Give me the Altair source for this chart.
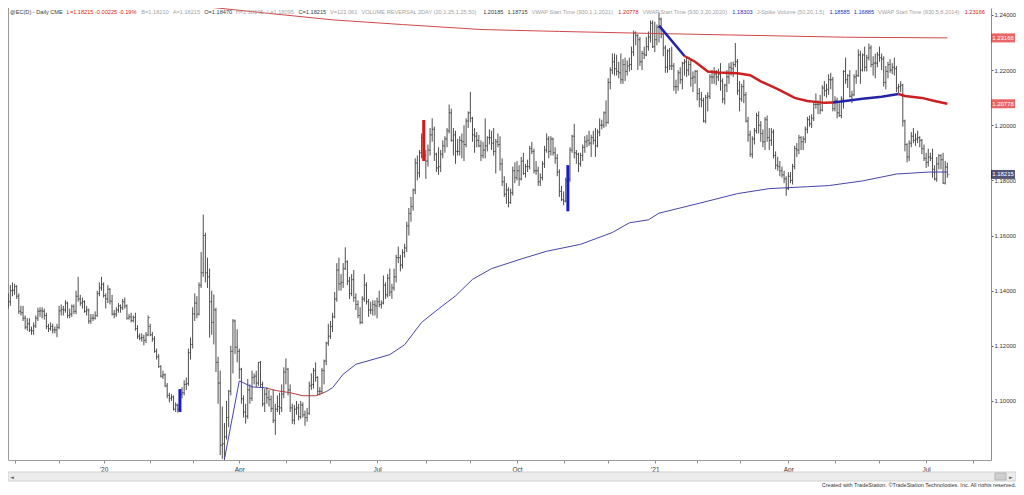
import altair as alt
import pandas as pd

# ---------------- data (prices in pips, 1 pip = 0.0001) ----------------
opens = [
 11345,11350,11360,11400,11402, 11415,11380,11325,11320,11300, 11268,11280,11257,11255,11272,
 11300,11325,11327,11325,11310, 11270,11262,11270,11258,11258, 11267,11327,11332,11330,11355,
 11310,11315,11343,11325,11380, 11370,11355,11360,11325,11330, 11290,11300,11300,11310, 11390,11410,
 11423,11382, 11370,11405,11362,11315,11315, 11330,11345,11338,11360,11345, 11300,11305,11292,11303,11263,
 11235,11228,11230,11220,11240, 11270,11240,11225,11180,11160, 11125,11090,11095,11055,11020,
 11010,11015,10970,10985,10970, 11025,11030,11060,11063,11175, 11205,11316,11355,11315,11420,
 11465,11600,11465,11450,11360, 11285,11330,11140,11065,10840, 10845,10870,10940,11035,11180, 11290,11195,
 11180,11115,11008, 10960,10945,11040,11010,11085, 11090,11065,11140,11060,10990, 11025,11012,11005,10973,10930,
 10970,10980,10975,11025, 11105, 11115,11040,10975,10930,10970, 10975,10943,10985,10950,10940,
 10955,11055,11060,11110,11085, 11035,11035,11110,11145,11210, 11235,11270,11305,11370,11475,
 11425,11430,11480,11505,11435, 11390,11440,11375,11350,11310, 11285,11370,11420,11360,11330, 11330,11350,
 11345,11360,11350, 11355,11420,11385,11445,11395, 11410,11450,11520,11520,11493, 11538,11555,11635,11680,11705,
 11765,11863,11827,11900,11955, 11890,11870,11910,11965,11985, 11895,11845,11850,11895,11925,
 11950,11980,12045,11945,11965, 11905,11905,11945,11940,11930, 12015,
 12045,12025,11965,11960, 11945,11925,11890,11910,11925, 11955,11955,11935,11905,11940,
 11930,11860,11795,11750,11765, 11720,11755,11835, 11810,11835, 11805,11870,11825,11850,11850,
 11915,11905,11835,11835,11795, 11810,11860,11910,11950,11905, 11950,11900,11880,11830,11760,
 11730,11725,11800,11805,11910, 11960,11900,11895,11860,11890, 11920,11940,11945,11935,11955,
 11945,11925,11975,12000,12000, 12045, 12010,12155,12200,12230, 12205,12195,12190,12165,12220,
 12195,12215,12220,12265,12335, 12325,12310,12230,12260, 12255,12285,12320,12370,
 12285,12310,12355,12385,12330, 12280,12210,12270,12215,12215, 12140,12140,12190,12165,12225,
 12230,12200,12220,12170,12175, 12195,12115,12095,12090,12015, 12100,12105,12175,12175,12185,
 12175,12185,12160,12095,12145, 12175,12210,12205,12220,12230, 12125,12095,12140,12110,12015,
 11965,11895,11950,11980,12035, 12000,11970,11940,12020,11955, 11945,11975,11890,11855,11850,
 11835,11820,11805, 11770,11815, 11800,11850,11915,11910,11955, 11940,11950,11985,12020,12005,
 12025,12075,12075,12075,12055, 12135,12125,12130,12165,12165, 12060,12090,12045,12035,12095,
 12195,12165,12180,12105,12110, 12175,12180,12255,12200,12255, 12210,12245,12280,12220,12225, 12225,
 12255,12245,12240,12155, 12195,12220,12200,12210,12205, 12135,12140,12145,12015,11930,
 11885,11935,11960,11945,11950, 11955,11945,11915, 11880,11865, 11885,11880,11840,11805,11860,
 11890,11875,11790,11847,
]
highs = [
 11375,11390,11420,11430,11425, 11420,11390,11345,11345,11310, 11300,11300,11270,11285,11310,
 11338,11340,11340,11335,11320, 11280,11285,11280,11270,11280, 11345,11350,11345,11365,11360,
 11335,11350,11350,11400,11450, 11385,11375,11365,11345,11335, 11315,11315,11325,11400, 11430,11450,
 11430,11390, 11420,11410,11385,11330,11340, 11355,11350,11370,11375,11350, 11315,11320,11310,11320,11275,
 11245,11245,11240,11250,11310, 11280,11250,11235,11190,11170, 11130,11110,11100,11065,11030,
 11025,11020,10995,10990,11043, 11050,11075,11085,11190,11230, 11340,11390,11380,11430,11540,
 11676,11610,11520,11480,11400, 11386,11338,11160,11110,10980, 10920,11000,11040,11200,11297, 11295,11260,
 11190,11120,11020, 10990,11080,11060,11110,11100, 11110,11141,11145,11070,11045, 11050,11040,11020,11040,10990,
 11020,11030,11060,11122, 11154, 11120,11060,10990,10985,11000, 10990,11000,10995,10965,10975,
 11070,11100,11120,11140,11090, 11050,11120,11150,11215,11280, 11290,11320,11395,11500,11520,
 11460,11500,11557,11510,11450, 11460,11475,11390,11365,11340, 11380,11460,11430,11370,11360, 11365,11365,
 11375,11400,11365, 11455,11430,11460,11480,11425, 11480,11530,11560,11530,11550, 11570,11650,11700,11740,11770,
 11880,11890,11910,11970,12019, 11910,11930,11990,12025,11995, 11900,11920,11910,11945,11960,
 11990,12075,12060,11990,11980, 11950,11960,11970,12000,12025, 12050,
 12121,12030,11990,11975, 11965,11945,11940,12025,11960, 11985,11980,11990,11950,11970,
 11960,11880,11815,11790,11775, 11770,11850,11865, 11870,11855, 11885,11900,11860,11875,11925,
 11940,11915,11870,11850,11825, 11870,11925,11970,11960,11960, 11955,11920,11895,11840,11780,
 11760,11810,11855,11920,11965, 12005,11910,11900,11900,11930, 11960,11965,11980,11965,11980,
 11990,11985,12025,12020,12050, 12090, 12170,12210,12260,12260, 12255,12230,12260,12240,12245,
 12235,12245,12285,12343,12340, 12330,12320,12270,12285, 12320,12340,12380,12380,
 12375,12365,12409,12390,12345, 12290,12275,12280,12285,12225, 12165,12200,12210,12230,12240,
 12250,12235,12240,12195,12200, 12200,12135,12120,12100,12110, 12120,12185,12200,12210,12200,
 12205,12225,12170,12150,12200, 12225,12230,12230,12298,12240, 12160,12150,12165,12120,12030,
 11980,11960,11990,12045,12050, 12015,11985,12030,12035,11990, 11990,11985,11905,11885,11870,
 11850,11835,11815, 11830,11830, 11860,11925,11935,11965,11960, 11960,11995,12030,12035,12040,
 12085,12115,12090,12110,12145, 12160,12150,12185,12190,12175, 12105,12100,12080,12105,12200,
 12245,12185,12200,12125,12185, 12200,12275,12270,12260,12285, 12255,12296,12290,12250,12260, 12265,
 12285,12260,12250,12215, 12230,12240,12225,12245,12215, 12150,12160,12150,12020,11935,
 11945,11975,11990,11970,11980, 11960,11950,11930, 11900,11915, 11900,11915,11855,11885,11895,
 11895,11900,11870,11864.5,
]
lows = [
 11330,11335,11345,11380,11385, 11370,11315,11310,11290,11260, 11255,11250,11240,11240,11265,
 11290,11305,11300,11295,11260, 11250,11255,11245,11245,11231, 11260,11310,11310,11320,11300,
 11300,11305,11315,11315,11360, 11345,11335,11320,11310,11280, 11280,11290,11295,11305, 11380,11400,
 11375,11335, 11355,11350,11310,11300,11305, 11320,11320,11330,11335,11295, 11295,11285,11285,11255,11225,
 11220,11215,11202,11210,11235, 11235,11215,11175,11150,11120, 11085,11080,11050,11010,10995,
 11000,10965,10960,10958,10960, 11010,11020,11040,11055,11150, 11190,11290,11300,11310,11410,
 11450,11430,11410,11230,11240, 11205,11105,10990,10804,10790, 10786,10860,10905,11020,11100, 11170,11140,
 11080,10990,10940, 10918,10935,10990,11000,11060, 11050,11055,11050,10980,10960, 10990,10980,10960,10920,10877,
 10960,10950,10960,11010, 11060, 11020,10960,10917,10915,10950, 10930,10935,10940,10910,10925,
 10950,11040,11045,11070,11020, 11020,11025,11060,11130,11200, 11225,11250,11300,11360,11400,
 11400,11410,11475,11420,11370, 11380,11360,11330,11300,11278, 11280,11360,11350,11305,11315, 11310,11310,
 11300,11340,11335, 11350,11370,11375,11380,11370, 11400,11430,11500,11470,11480, 11520,11540,11600,11650,11690,
 11750,11800,11810,11880,11870, 11805,11850,11890,11940,11870, 11830,11820,11830,11880,11900,
 11920,11970,11940,11890,11860, 11890,11890,11880,11870,11920, 11990,
 12010,11940,11900,11920, 11920,11870,11880,11880,11905, 11930,11910,11890,11825,11920,
 11835,11780,11740,11715,11702, 11715,11745,11790, 11800,11780, 11800,11820,11810,11830,11840,
 11895,11825,11820,11780,11780, 11800,11845,11900,11880,11890, 11890,11860,11815,11740,11725,
 11710,11720,11688,11795,11900, 11880,11860,11830,11850,11870, 11900,11920,11925,11885,11930,
 11885,11920,11960,11985,11990, 11995, 12005,12130,12185,12180, 12180,12170,12150,12150,12160,
 12180,12195,12200,12250,12290, 12200,12215,12200,12240, 12250,12270,12300,12280,
 12265,12290,12300,12315,12250, 12190,12190,12200,12200,12125, 12114,12125,12150,12130,12180,
 12175,12180,12140,12120,12150, 12090,12065,12065,12010,12007, 12050,12095,12150,12150,12145,
 12160,12125,12080,12075,12120, 12150,12180,12175,12210,12110, 12050,12085,12080,12010,11940,
 11885,11880,11930,11970,11970, 11940,11920,11910,11940,11910, 11925,11880,11840,11835,11815,
 11810,11790,11744, 11765,11790, 11785,11840,11885,11895,11910, 11910,11935,11970,11995,11990,
 12015,12060,12040,12040,12050, 12105,12100,12110,12130,12050, 12050,12025,12030,12025,12060,
 12150,12135,12100,12080,12105, 12150,12175,12150,12195,12195, 12195,12235,12210,12180,12170, 12210,
 12230,12200,12140,12130, 12170,12190,12185,12180,12120, 12115,12120,11995,11905,11865,
 11870,11920,11935,11925,11935, 11920,11895,11870, 11845,11850, 11870,11810,11800,11795,11840,
 11840,11787,11785,11809.5,
]
closes = [
 11350,11360,11400,11402,11415, 11380,11325,11320,11300,11268, 11280,11257,11255,11272,11300,
 11325,11327,11325,11310,11270, 11262,11270,11258,11258,11267, 11327,11332,11330,11355,11310,
 11315,11343,11325,11380,11370, 11355,11360,11325,11330,11290, 11300,11300,11310,11390, 11410,11423,
 11382,11370, 11405,11362,11315,11315,11330, 11345,11338,11360,11345,11300, 11305,11292,11303,11263,11235,
 11228,11230,11220,11240,11303, 11240,11225,11180,11160,11125, 11090,11095,11055,11020,11010,
 11015,10970,10985,10970,11025, 11030,11060,11063,11175,11205, 11316,11355,11315,11420,11465,
 11600,11465,11450,11360,11285, 11330,11140,11065,10840,10845, 10870,10940,11035,11180,11290, 11195,11180,
 11115,11008,10960, 10945,11040,11010,11085,11090, 11065,11140,11060,10990,11025, 11012,11005,10973,10930,10970,
 10980,10975,11025,11105, 11115, 11040,10975,10930,10970,10975, 10943,10985,10950,10940,10955,
 11055,11060,11110,11085,11035, 11035,11110,11145,11210,11235, 11270,11305,11370,11475,11425,
 11430,11480,11505,11435,11390, 11440,11375,11350,11310,11285, 11370,11420,11360,11330,11330, 11350,11345,
 11360,11350,11355, 11420,11385,11445,11395,11410, 11450,11520,11520,11493,11538, 11555,11635,11680,11705,11765,
 11863,11827,11900,11955,11890, 11870,11910,11965,11985,11895, 11845,11850,11895,11925,11950,
 11980,12045,11945,11965,11905, 11905,11945,11940,11930,12015, 12045,
 12025,11965,11960,11945, 11925,11890,11910,11925,11955, 11955,11935,11905,11940,11930,
 11860,11795,11750,11765,11720, 11755,11835,11810, 11835,11805, 11870,11825,11850,11850,11915,
 11905,11835,11835,11795,11810, 11860,11910,11950,11905,11950, 11900,11880,11830,11760,11730,
 11725,11800,11805,11910,11960, 11900,11895,11860,11890,11920, 11940,11945,11935,11955,11945,
 11925,11975,12000,12000,12045, 12010, 12155,12200,12230,12205, 12195,12190,12165,12220,12195,
 12215,12220,12265,12335,12325, 12310,12230,12260,12255, 12285,12320,12370,12285,
 12310,12355,12385,12330,12280, 12210,12270,12215,12215,12140, 12140,12190,12165,12225,12230,
 12200,12220,12170,12175,12195, 12115,12095,12090,12015,12100, 12105,12175,12175,12185,12175,
 12185,12160,12095,12145,12175, 12210,12205,12220,12230,12125, 12095,12140,12110,12015,11965,
 11895,11950,11980,12035,12000, 11970,11940,12020,11955,11945, 11975,11890,11855,11850,11835,
 11820,11805,11770, 11815,11800, 11850,11915,11910,11955,11940, 11950,11985,12020,12005,12025,
 12075,12075,12075,12055,12135, 12125,12130,12165,12165,12060, 12090,12045,12035,12095,12195,
 12165,12180,12105,12110,12175, 12180,12255,12200,12255,12210, 12245,12280,12220,12225,12225, 12255,
 12245,12240,12155,12195, 12220,12200,12210,12205,12135, 12140,12145,12015,11930,11885,
 11935,11960,11945,11950,11955, 11945,11915,11880, 11865,11885, 11880,11840,11805,11860,11890,
 11875,11790,11850,11821.5,
]

# J-Spike highlighted bars (bar index) and their colours
spike_idx = [82, 197, 265]
spike_colors = ["#1b1bc4", "#d21a1a", "#1b1bc4"]

# VWAP start 5/8/2014 (thin red)
v14_idx = [96, 122, 154, 187, 224, 261, 303, 350, 396, 444]
v14_val = [1.2428, 1.2407, 1.2382, 1.2365, 1.2347, 1.2340, 1.2333, 1.2326, 1.2319, 1.23166]

# VWAP start 3/20/2020 (thin; blue / red / blue segments)
v20a_idx = [103, 110, 116, 122, 123]
v20a_val = [1.0789, 1.1073, 1.1051, 1.1048, 1.1046]
v20b_idx = [123, 128, 134, 140, 146, 151]
v20b_val = [1.1046, 1.1037, 1.1030, 1.1019, 1.1019, 1.1034]
v20c_idx = [151, 154, 159, 165, 181, 188, 196, 204, 212, 220, 229, 243, 255, 271, 286, 294, 303,
            308, 327, 345, 360, 378, 388, 404, 420, 435, 444]
v20c_val = [1.1034, 1.1048, 1.1097, 1.1133, 1.1168, 1.1204, 1.1285, 1.1334, 1.1381, 1.1441, 1.1480,
            1.1515, 1.1543, 1.1568, 1.1611, 1.1646, 1.1657, 1.1681, 1.1717, 1.1752, 1.1770, 1.1777,
            1.1781, 1.1798, 1.1823, 1.1830, 1.18303]

# VWAP start 1/1/2021 (thick; blue / red / blue / red segments)
v21a_idx = [308, 320]
v21a_val = [1.2361, 1.2251]
v21b_idx = [320, 325, 331, 336, 345, 351, 356, 364, 372, 378, 386, 390]
v21b_val = [1.2251, 1.2230, 1.2195, 1.2191, 1.2188, 1.2181, 1.2159, 1.2131, 1.2099, 1.2088, 1.2081, 1.2082]
v21c_idx = [390, 393, 404, 413, 421]
v21c_val = [1.2082, 1.2085, 1.2096, 1.2103, 1.2113]
v21d_idx = [421, 424, 432, 438, 444]
v21d_val = [1.2113, 1.2106, 1.2099, 1.2088, 1.20778]

# price tags on the right axis
tag_values = [1.23166, 1.20778, 1.18215]
tag_labels = ["1.23166", "1.20778", "1.18215"]
tag_colors = ["#e32222", "#e32222", "#0c0c3a"]

y_tick_values = [1.10, 1.12, 1.14, 1.16, 1.18, 1.20, 1.22, 1.24]
quarter_month_names = {4: "Apr", 7: "Jul", 10: "Oct"}
holidays = ["2019-12-25", "2020-01-01", "2020-12-25", "2021-01-01"]

DARK, RED, GRAY, BLUE = "#3a3a3a", "#d42020", "#a3a3a3", "#2828b8"
header_segments = ["@EC(D) - Daily CME", "L=1.18215 -0.00225 -0.19%", "B=1.18210", "A=1.18215",
                   "O=1.18470", "H=1.18645", "L=1.18095", "C=1.18215", "V=122,061",
                   "VOLUME REVERSAL 2DAY (20,1.25,1.25,50)", "1.20185", "1.18715",
                   "VWAP Start Time (930,1,1,2021)", "1.20778", "VWAP Start Time (930,3,20,2020)",
                   "1.18303", "J-Spike Volume (50,20,1.5)", "1.18585", "1.16885",
                   "VWAP Start Time (930,5,8,2014)", "1.23166"]
header_colors = [DARK, RED, GRAY, GRAY, DARK, GRAY, GRAY, DARK, GRAY, GRAY, DARK, DARK,
                 GRAY, RED, GRAY, BLUE, GRAY, BLUE, BLUE, GRAY, RED]
credit_text = "Created with TradeStation. \u00a9TradeStation Technologies, Inc. All rights reserved."

# ---------------- layout ----------------
FONT = "Liberation Sans"
W, H = 983, 452
X_DOM = [0.9, 464.6]
Y_DOM = [1.0786, 1.2425]
BAR = "#3a3a3a"
TICK = "#7a7a7a"

n = len(closes)
assert len(opens) == len(highs) == len(lows) == n, (len(opens), len(highs), len(lows), n)

days = pd.bdate_range("2019-10-28", "2021-08-31")
days = days[~days.isin(pd.to_datetime(holidays))]

bars = pd.DataFrame({
    "i": list(range(n)),
    "date": [d.strftime("%Y-%m-%d") for d in days[:n]],
    "o": [v / 1e4 for v in opens],
    "h": [v / 1e4 for v in highs],
    "l": [v / 1e4 for v in lows],
    "c": [v / 1e4 for v in closes],
})

tick_vals, tick_labs = [], []
for k in range(1, len(days)):
    if days[k].month != days[k - 1].month and k <= X_DOM[1]:
        m = days[k].month
        tick_vals.append(k)
        tick_labs.append("'%02d" % (days[k].year % 100) if m == 1 else quarter_month_names.get(m, ""))
label_expr = " : ".join('datum.value == %d ? "%s"' % (v, l) for v, l in zip(tick_vals, tick_labs) if l) + ' : ""'

xs = alt.Scale(domain=X_DOM, nice=False, zero=False)
ys = alt.Scale(domain=Y_DOM, nice=False, zero=False)
xaxis = alt.Axis(values=tick_vals, labelExpr=label_expr, title=None, grid=False, tickSize=3,
                 tickColor="#8c8c8c", domainColor="#9a9a9a", labelFont=FONT, labelFontSize=6.5,
                 labelColor="#333333", labelPadding=3, labelOverlap=False, labelFlush=False, labelAngle=0)
yaxis = alt.Axis(orient="right", values=y_tick_values, format=".5f", title=None, grid=False, tickSize=2,
                 tickColor="#555555", domainColor="#8c8c8c", labelFont=FONT, labelFontSize=6,
                 labelColor="#333333", labelPadding=1, labelOverlap=False, labelFlush=False)


def X(f):
    return alt.X(f, type="quantitative", scale=xs, axis=xaxis)


def Y(f):
    return alt.Y(f, type="quantitative", scale=ys, axis=yaxis)


one = pd.DataFrame({"a": [0]})
layers = []

# left border
layers.append(alt.Chart(one).mark_rule(color="#9a9a9a", strokeWidth=1).encode(
    x=alt.value(0.5), y=alt.value(0), y2=alt.value(H)))

# OHLC bars
layers.append(alt.Chart(bars).mark_tick(orient="horizontal", size=2.2, thickness=1, xOffset=-1.1,
                                        color=TICK, clip=True).encode(x=X("i"), y=Y("o")))
layers.append(alt.Chart(bars).mark_tick(orient="horizontal", size=2.2, thickness=1, xOffset=1.1,
                                        color=TICK, clip=True).encode(x=X("i"), y=Y("c")))
layers.append(alt.Chart(bars).mark_rule(color=BAR, strokeWidth=0.9, clip=True).encode(
    x=X("i"), y=Y("l"), y2=alt.Y2("h")))

# spike bars
spikes = bars.loc[spike_idx].assign(col=spike_colors)
layers.append(alt.Chart(spikes).mark_rule(strokeWidth=3, clip=True).encode(
    x=X("i"), y=Y("l"), y2=alt.Y2("h"), color=alt.Color("col:N", scale=None)))


def line_layer(idx, val, color, width):
    df = pd.DataFrame({"i": idx, "v": val})
    return alt.Chart(df).mark_line(color=color, strokeWidth=width, clip=True).encode(x=X("i"), y=Y("v"))


layers.append(line_layer(v14_idx, v14_val, "#d24848", 1))
layers.append(line_layer(v20a_idx, v20a_val, "#4545b0", 1))
layers.append(line_layer(v20b_idx, v20b_val, "#b33a3a", 1))
layers.append(line_layer(v20c_idx, v20c_val, "#4545a8", 1))
layers.append(line_layer(v21a_idx, v21a_val, "#2323a6", 2.5))
layers.append(line_layer(v21b_idx, v21b_val, "#cc2020", 2.5))
layers.append(line_layer(v21c_idx, v21c_val, "#2323a6", 2.5))
layers.append(line_layer(v21d_idx, v21d_val, "#cc2020", 2.5))

# price tags
tags = pd.DataFrame({"v": tag_values, "lab": tag_labels, "col": tag_colors})
layers.append(alt.Chart(tags).mark_tick(orient="horizontal", size=24, thickness=9).encode(
    x=alt.value(W + 12), y=Y("v"), color=alt.Color("col:N", scale=None)))
layers.append(alt.Chart(tags).mark_text(color="white", fontSize=6, font=FONT, align="center",
                                        baseline="middle").encode(x=alt.value(W + 12), y=Y("v"), text="lab:N"))


# header text
def em_w(s):
    w = 0.0
    for ch in s:
        if ch.isdigit():
            w += 0.556
        elif ch in ".,: ":
            w += 0.278
        elif ch in "()-":
            w += 0.333
        elif ch == "=":
            w += 0.584
        elif ch == "%":
            w += 0.889
        elif ch == "@":
            w += 1.015
        elif ch in "ilj":
            w += 0.222
        elif ch in "rft":
            w += 0.3
        elif ch == "m":
            w += 0.833
        elif ch in "MW":
            w += 0.9
        elif ch.isupper():
            w += 0.69
        else:
            w += 0.53
    return w


GAP = 0.7
total_em = sum(em_w(s) for s in header_segments) + GAP * (len(header_segments) - 1)
fs = max(5.5, min(7.5, 975.0 / total_em))
xpos = 2.0
for seg, col in zip(header_segments, header_colors):
    layers.append(alt.Chart(one).mark_text(font=FONT, fontSize=fs, color=col, align="left",
                                           baseline="middle").encode(
        x=alt.value(xpos), y=alt.value(4), text=alt.value(seg)))
    xpos += (em_w(seg) + GAP) * fs

# scrollbar + credit
layers.append(alt.Chart(one).mark_rect(fill="#ececec", stroke="#d2d2d2", strokeWidth=1).encode(
    x=alt.value(0), x2=alt.value(W + 25), y=alt.value(H + 12), y2=alt.value(H + 21)))
layers.append(alt.Chart(one).mark_rect(fill="#cfcfcf", stroke="#b5b5b5", strokeWidth=1).encode(
    x=alt.value(W + 4), x2=alt.value(W + 15), y=alt.value(H + 13), y2=alt.value(H + 20)))
layers.append(alt.Chart(one).mark_text(font="DejaVu Sans", fontSize=5, color="#666666", align="left",
                                       baseline="middle").encode(
    x=alt.value(2), y=alt.value(H + 16.5), text=alt.value("\u25c4")))
layers.append(alt.Chart(one).mark_text(font="DejaVu Sans", fontSize=5, color="#666666", align="left",
                                       baseline="middle").encode(
    x=alt.value(W + 18), y=alt.value(H + 16.5), text=alt.value("\u25ba")))
layers.append(alt.Chart(one).mark_text(font=FONT, fontSize=5.5, color="#333333", align="right",
                                       baseline="middle").encode(
    x=alt.value(W + 25), y=alt.value(H + 24.5), text=alt.value(credit_text)))

chart = alt.layer(*layers).properties(
    width=W, height=H,
    padding={"left": 0, "top": 0, "right": 25, "bottom": 27},
    autosize=alt.AutoSizeParams(type="none"),
    background="white",
).configure_view(stroke=None)

chart.save("out.html", embed_options={"renderer": "svg", "actions": False})
